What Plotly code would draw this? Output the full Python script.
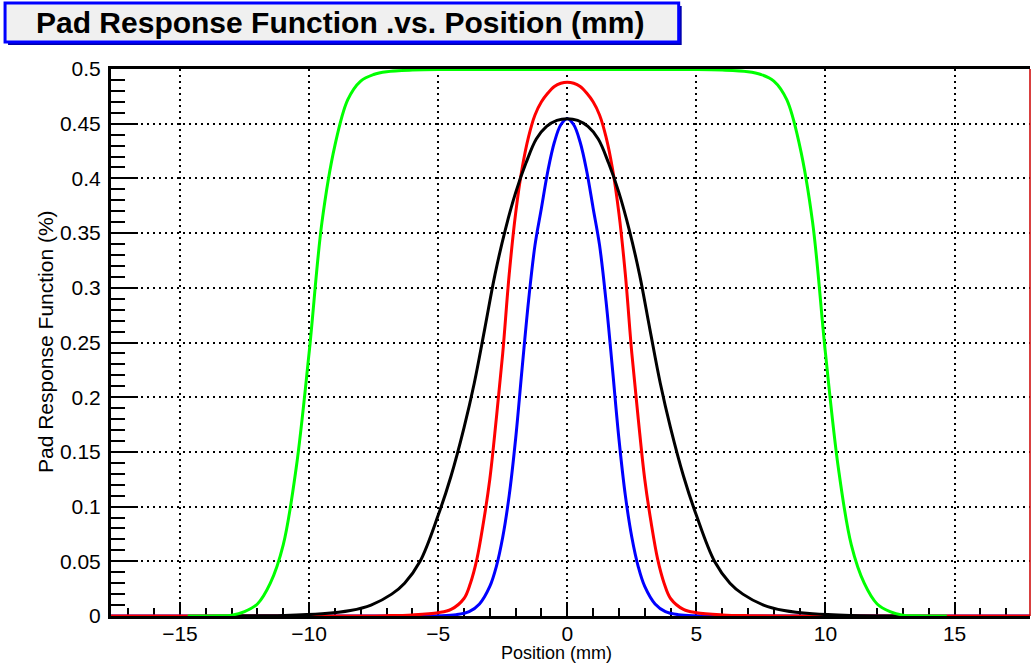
import plotly.graph_objects as go

# ---- data ----
red_x = [-17.67, -9.0, -7.0, -6.0, -5.0, -4.5, -4.0, -3.75, -3.5, -3.25, -3.0, -2.75, -2.5, -2.25, -2.0, -1.75, -1.5, -1.25, -1.0, -0.75, -0.5, -0.25, 0.0,
         0.25, 0.5, 0.75, 1.0, 1.25, 1.5, 1.75, 2.0, 2.25, 2.5, 2.75, 3.0, 3.25, 3.5, 3.75, 4.0, 4.5, 5.0, 6.0, 7.0, 9.0, 17.92]
red_y = [0.0, 0.0, 0.0003, 0.001, 0.003, 0.006, 0.016, 0.03, 0.052, 0.085, 0.125, 0.18, 0.24, 0.312, 0.368, 0.409, 0.438, 0.458, 0.470, 0.478, 0.484, 0.487, 0.488,
         0.487, 0.484, 0.478, 0.470, 0.458, 0.438, 0.409, 0.368, 0.312, 0.24, 0.18, 0.125, 0.085, 0.052, 0.03, 0.016, 0.006, 0.003, 0.001, 0.0003, 0.0, 0.0]

blue_x = [-17.67, -6.0, -5.0, -4.3, -3.8, -3.4, -3.0, -2.75, -2.5, -2.25, -2.0, -1.75, -1.5, -1.25, -1.0, -0.75, -0.5, -0.25, 0.0,
          0.25, 0.5, 0.75, 1.0, 1.25, 1.5, 1.75, 2.0, 2.25, 2.5, 2.75, 3.0, 3.4, 3.8, 4.3, 5.0, 6.0, 17.92]
blue_y = [0.0, 0.0, 0.0002, 0.0012, 0.004, 0.011, 0.027, 0.045, 0.072, 0.11, 0.162, 0.226, 0.288, 0.339, 0.373, 0.407, 0.433, 0.449, 0.4545,
          0.449, 0.433, 0.407, 0.373, 0.339, 0.288, 0.226, 0.162, 0.11, 0.072, 0.045, 0.027, 0.011, 0.004, 0.0012, 0.0002, 0.0, 0.0]

black_x = [-13.0, -11.0, -9.5, -8.4, -7.6, -6.8, -6.3, -5.7, -5.0, -4.5, -4.0, -3.6, -3.2, -2.8, -2.4, -2.0, -1.6, -1.2, -0.8, -0.4, 0.0,
           0.4, 0.8, 1.2, 1.6, 2.0, 2.4, 2.8, 3.2, 3.6, 4.0, 4.5, 5.0, 5.7, 6.3, 6.8, 7.6, 8.4, 9.5, 11.0, 13.0]
black_y = [0.0, 0.0005, 0.002, 0.005, 0.01, 0.02, 0.03, 0.05, 0.092, 0.128, 0.172, 0.213, 0.262, 0.312, 0.353, 0.387, 0.414, 0.436, 0.4475, 0.453, 0.4545,
           0.453, 0.4475, 0.436, 0.414, 0.387, 0.353, 0.312, 0.262, 0.213, 0.172, 0.128, 0.092, 0.05, 0.03, 0.02, 0.01, 0.005, 0.002, 0.0005, 0.0]

green_x = [-14.7, -13.5, -13.0, -12.5, -12.0, -11.5, -11.0, -10.5, -10.0, -9.5, -9.0, -8.5, -8.0, -7.5, -7.0, -6.0, -5.0, 0.0,
           5.0, 6.0, 7.0, 7.5, 8.0, 8.5, 9.0, 9.5, 10.0, 10.5, 11.0, 11.5, 12.0, 12.5, 13.0, 13.5, 14.7]
green_y = [0.0, 0.0002, 0.0008, 0.004, 0.011, 0.03, 0.065, 0.135, 0.24, 0.36, 0.43, 0.472, 0.489, 0.495, 0.4975, 0.499, 0.4995, 0.4995,
           0.4995, 0.499, 0.4975, 0.495, 0.489, 0.472, 0.43, 0.36, 0.24, 0.135, 0.065, 0.03, 0.011, 0.004, 0.0008, 0.0002, 0.0]

x_ticks = [-15, -10, -5, 0, 5, 10, 15]
y_ticks = [0, 0.05, 0.1, 0.15, 0.2, 0.25, 0.3, 0.35, 0.4, 0.45, 0.5]

title_text = "Pad Response Function .vs. Position (mm)"
x_title = "Position (mm)"
y_title = "Pad Response Function (%)"

# ---- figure ----
W, H = 1032, 671
ML, MR, MT, MB = 111, 1.5, 69, 55
PW, PH = W - ML - MR, H - MT - MB
FONT = "Liberation Sans, Arial, Helvetica, sans-serif"

def px_x(p):
    return (p - ML) / PW

def px_y(p):
    return (H - MB - p) / PH

fig = go.Figure()
for xs, ys, col in [(blue_x, blue_y, "#0000ff"), (red_x, red_y, "#ff0000"),
                    (black_x, black_y, "#000000"), (green_x, green_y, "#00ff00")]:
    fig.add_trace(go.Scatter(x=xs, y=ys, mode="lines", line=dict(color=col, width=3, shape="spline", smoothing=1.0),
                             hoverinfo="skip", showlegend=False))

fig.update_layout(
    width=W, height=H,
    margin=dict(l=ML, r=MR, t=MT, b=MB, pad=0),
    paper_bgcolor="white", plot_bgcolor="white",
    font=dict(family=FONT, color="black"),
    showlegend=False,
)

fig.update_xaxes(
    range=[-17.67, 17.92], tickvals=x_ticks, ticks="inside", ticklen=14, tickwidth=2, tickcolor="black",
    minor=dict(dtick=1, tick0=0, ticks="inside", ticklen=8, tickwidth=2, tickcolor="black", showgrid=False),
    showgrid=True, gridcolor="black", gridwidth=1.5, griddash="2px,4px",
    showline=True, linecolor="black", linewidth=3, mirror=True, zeroline=False,
    tickfont=dict(size=21, family=FONT, color="black"), ticklabelstandoff=-3, layer="below traces",
)
fig.update_yaxes(
    range=[0, 0.5], tickvals=y_ticks, ticktext=[("%g" % v) for v in y_ticks],
    ticks="inside", ticklen=27, tickwidth=2, tickcolor="black",
    minor=dict(dtick=0.01, tick0=0, ticks="inside", ticklen=14, tickwidth=2, tickcolor="black", showgrid=False),
    showgrid=True, gridcolor="black", gridwidth=1.5, griddash="2px,4px",
    showline=True, linecolor="black", linewidth=3, mirror=False, zeroline=False,
    tickfont=dict(size=21, family=FONT, color="black"), ticklabelstandoff=3, layer="below traces",
)

# right frame edge (red in the reference)
fig.add_shape(type="line", xref="paper", yref="paper", x0=1, x1=1, y0=0, y1=1,
              line=dict(color="#cc0000", width=1.5))

# title box shadow + box
fig.add_shape(type="rect", xref="paper", yref="paper",
              x0=px_x(8), x1=px_x(682), y0=px_y(45), y1=px_y(6),
              line=dict(width=0), fillcolor="#0000aa", layer="above")
fig.add_shape(type="rect", xref="paper", yref="paper",
              x0=px_x(5), x1=px_x(679), y0=px_y(42), y1=px_y(3),
              line=dict(width=3, color="#0000ff"), fillcolor="#f0f0f0", layer="above")
fig.add_annotation(text="<b>" + title_text + "</b>", xref="paper", yref="paper",
                   x=px_x(340), y=px_y(23), xanchor="center", yanchor="middle", showarrow=False,
                   font=dict(size=30, family=FONT, color="black"))

fig.add_annotation(text=x_title, xref="paper", yref="paper", x=px_x(557), y=px_y(653),
                   xanchor="center", yanchor="middle", showarrow=False,
                   font=dict(size=18, family=FONT, color="black"))
fig.add_annotation(text=y_title, xref="paper", yref="paper", x=px_x(45), y=px_y(342),
                   xanchor="center", yanchor="middle", showarrow=False, textangle=-90,
                   font=dict(size=21, family=FONT, color="black"))

fig.write_html("out.html", config={"displayModeBar": False},
               post_script="document.body.style.margin='0';document.body.style.padding='0';document.body.style.overflow='hidden';")
